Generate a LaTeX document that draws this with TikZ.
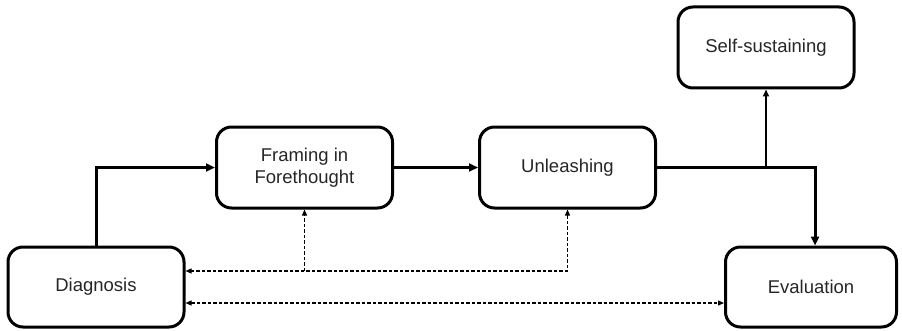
\documentclass[tikz,border=0pt]{standalone}
\usepackage{fontspec}
\setmainfont{Liberation Sans}
\usetikzlibrary{arrows.meta,positioning}

\tikzset{
  stage/.style={draw, line width=3pt, rounded corners=15pt, minimum width=176pt,
    minimum height=80pt, align=center, font=\fontsize{18.5}{22}\selectfont, text=black!85},
  flow/.style={line width=3pt, -{Triangle[length=9pt,width=8pt]}},
  thinflow/.style={line width=1.5pt, -{Triangle[length=7pt,width=6pt]}},
  feedback/.style={line width=1.2pt, dash pattern=on 3.5pt off 2pt,
    >={Triangle[length=6pt,width=5pt]}},
}

\begin{document}
\begin{tikzpicture}[x=1pt,y=1pt]
\useasboundingbox (0,0) rectangle (902,330);

\node[stage] (diag) at (96,43) {Diagnosis};
\node[stage, minimum height=81pt] (frame) at (304.5,162.5) {Framing in\\Forethought};
\node[stage, minimum height=81pt] (unl) at (567.5,162.5) {Unleashing};
\node[stage, minimum width=171pt] (eval) at (811,43) {Evaluation};
\node[stage, minimum height=81pt] (self) at (766,282.5) {Self-sustaining};

\draw[flow] (diag.north) |- (frame.west);
\draw[flow] (frame.east) -- (unl.west);
\draw[flow] (unl.east) -| ([xshift=4pt]eval.north);

\coordinate (split) at (self.south |- unl.east);
\draw[thinflow] (split) -- (self.south);

% feedback loops
\coordinate (back) at ([yshift=16pt]diag.east);
\draw[feedback, <->] (unl.south) |- (back);
\draw[feedback, ->] (frame.south |- back) -- (frame.south);
\draw[feedback, <->] ([yshift=-16pt]diag.east) -- ([yshift=-16pt]diag.east -| eval.west);

\end{tikzpicture}
\end{document}
